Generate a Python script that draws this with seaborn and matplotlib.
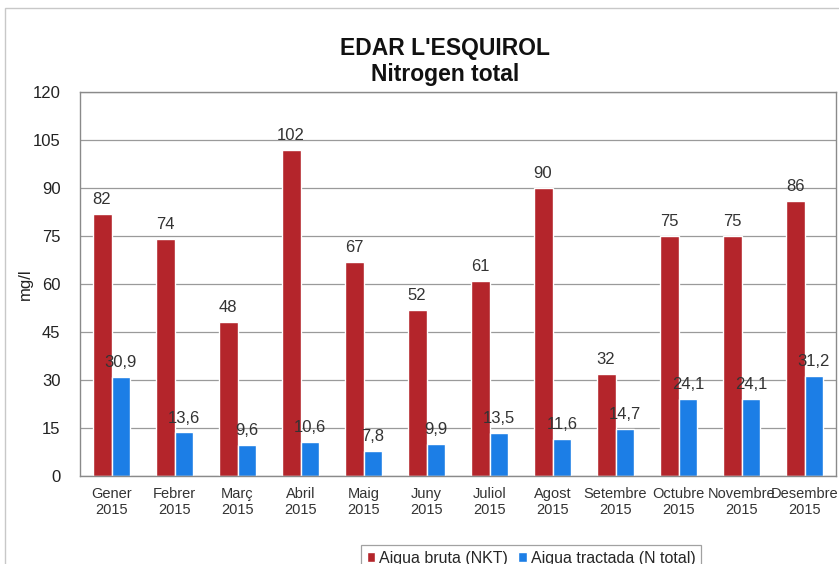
import matplotlib
matplotlib.use("Agg")
import matplotlib.pyplot as plt
import seaborn as sns
import pandas as pd
from matplotlib.patches import Rectangle

months = ["Gener", "Febrer", "Març", "Abril", "Maig", "Juny", "Juliol",
          "Agost", "Setembre", "Octubre", "Novembre", "Desembre"]
year = "2015"
aigua_bruta = [82, 74, 48, 102, 67, 52, 61, 90, 32, 75, 75, 86]
aigua_tractada = [30.9, 13.6, 9.6, 10.6, 7.8, 9.9, 13.5, 11.6, 14.7, 24.1, 24.1, 31.2]
series_names = ["Aigua bruta (NKT)", "Aigua tractada (N total)"]
colors = ["#B4252B", "#1C7EE6"]
yticks = [0, 15, 30, 45, 60, 75, 90, 105, 120]

labels = [f"{m}\n{year}" for m in months]
df = pd.DataFrame({
    "mes": labels * 2,
    "valor": aigua_bruta + aigua_tractada,
    "serie": [series_names[0]] * len(months) + [series_names[1]] * len(months),
})

sns.set_style("white")
plt.rcParams["font.family"] = ["Liberation Sans", "DejaVu Sans"]

fig = plt.figure(figsize=(8.39, 5.64), dpi=100)
ax = fig.add_axes([80 / 839, 1 - 476 / 564, 756 / 839, 384 / 564])

sns.barplot(data=df, x="mes", y="valor", hue="serie", palette=colors,
            width=0.6, gap=0, saturation=1, ax=ax, legend=True)

ax.set_ylim(0, 120)
ax.set_xlim(-0.5, len(months) - 0.5)
ax.set_yticks(yticks)
ax.set_yticklabels([str(t) for t in yticks], fontsize=12, color="#222222")
ax.tick_params(axis="x", labelsize=10.5, colors="#333333", length=0, pad=8)
ax.tick_params(axis="y", length=0, pad=14)
ax.set_xlabel("")
ax.set_ylabel("mg/l", fontsize=12, color="#222222")
ax.yaxis.set_label_coords(-(80 - 33) / 756, 0.5)
ax.yaxis.grid(True, color="#9a9a9a", linewidth=0.9)
ax.set_axisbelow(True)
for s in ax.spines.values():
    s.set_color("#8a8a8a")
    s.set_linewidth(1.0)

# value labels above each bar, decimal comma
for cont, vals in zip(ax.containers, [aigua_bruta, aigua_tractada]):
    txt = [(f"{v:.0f}" if float(v).is_integer() else f"{v:.1f}").replace(".", ",") for v in vals]
    ax.bar_label(cont, labels=txt, padding=5, fontsize=12, color="#333333")

leg = ax.legend(loc="upper center", bbox_to_anchor=((531 - 80) / 756, -0.159), ncol=2,
                frameon=True, fontsize=11.5, handlelength=0.55, handleheight=0.55,
                handletextpad=0.25, columnspacing=0.6, borderpad=0.35,
                fancybox=False, edgecolor="#8a8a8a")
leg.get_frame().set_linewidth(0.9)

fig.text(445 / 839, 1 - 48 / 564, "EDAR L'ESQUIROL", ha="center", va="center",
         fontsize=16.5, fontweight="bold", color="#111111")
fig.text(445 / 839, 1 - 74 / 564, "Nitrogen total", ha="center", va="center",
         fontsize=16.5, fontweight="bold", color="#111111")

# outer chart border
fig.patches.append(Rectangle((5 / 839, -0.02), 1.0, 1 - 8 / 564 + 0.02,
                             transform=fig.transFigure, fill=False,
                             edgecolor="#c8c8c8", linewidth=1.0))

fig.savefig("out.png", dpi=100)
